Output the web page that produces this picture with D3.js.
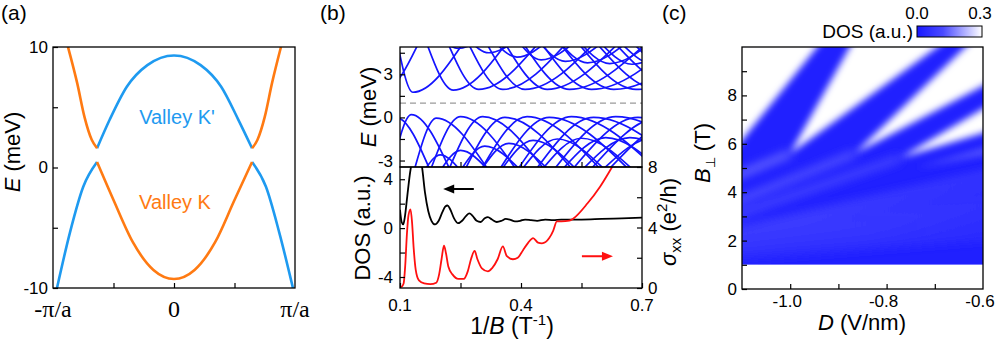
<!DOCTYPE html>
<meta charset="utf-8" />
<script src="https://cdn.jsdelivr.net/npm/d3@7"></script>
<style>
  body { margin: 0; background: #fff; }
  svg text { font-family: "Liberation Sans", Arial, sans-serif; fill: #000; }
</style>
<body>
<div id="fig"></div>
<script>
// ---------- (a) band dispersion, k in units of pi/a, E in meV ----------
const condOuterLeft  = [[-0.876, 10], [-0.80, 7.0], [-0.74, 4.2], [-0.68, 2.3], [-0.636, 1.6]];
const condOuterRight = [[0.645, 1.6], [0.69, 2.3], [0.75, 4.2], [0.81, 7.0], [0.884, 10]];
const condInner = [[-0.636, 1.6], [-0.53, 4.0], [-0.39, 6.7], [-0.22, 8.5], [0, 9.3],
                   [0.22, 8.5], [0.39, 6.7], [0.53, 4.0], [0.645, 1.6]];
const valInner = [[-0.636, 0.45], [-0.5, -2.7], [-0.34, -6.2], [-0.17, -8.5], [0, -9.25],
                  [0.17, -8.5], [0.34, -6.2], [0.5, -2.7], [0.645, 0.45]];
const valOuterLeft  = [[-0.967, -10], [-0.86, -5.4], [-0.75, -1.6], [-0.636, 0.45]];
const valOuterRight = [[0.645, 0.45], [0.76, -1.6], [0.87, -5.4], [0.983, -10]];

// ---------- (b) Landau levels vs 1/B (T^-1), E in meV ----------
const levelsUp = [
  [[0.02, 5.4], [0.06, 1.9], [0.15, 5.4]],
  [[0.092, 5.4], [0.132, 1.75], [0.262, 5.4]],
  [[0.163, 5.4], [0.232, 1.9], [0.37, 5.4]],
  [[0.215, 5.4], [0.295, 1.95], [0.45, 5.4]],
  [[0.265, 5.4], [0.355, 1.95], [0.52, 5.4]],
  [[0.31, 5.4], [0.41, 1.95], [0.59, 5.4]],
  [[0.355, 5.4], [0.465, 1.95], [0.65, 5.4]],
  [[0.4, 5.4], [0.52, 1.95], [0.72, 5.4]],
  [[0.445, 5.4], [0.575, 1.95], [0.79, 5.4]],
  [[0.49, 5.4], [0.63, 1.95], [0.86, 5.4]],
  [[0.535, 5.4], [0.685, 1.95], [0.93, 5.4]],
  [[0.58, 5.4], [0.74, 1.95], [1.0, 5.4]],
  [[0.625, 5.4], [0.795, 1.95], [1.06, 5.4]],
  [[0.67, 5.4], [0.85, 1.95], [1.12, 5.4]],
  [[0.2, 5.4], [0.245, 4.8], [0.3, 5.4]],
  [[0.27, 5.4], [0.32, 4.5], [0.39, 5.4]],
  [[0.33, 5.4], [0.39, 4.2], [0.47, 5.4]],
  [[0.39, 5.4], [0.45, 4.0], [0.54, 5.4]],
  [[0.44, 5.4], [0.51, 3.9], [0.61, 5.4]],
  [[0.49, 5.4], [0.565, 3.8], [0.67, 5.4]],
  [[0.54, 5.4], [0.62, 3.75], [0.73, 5.4]],
  [[0.59, 5.4], [0.675, 3.7], [0.79, 5.4]],
  [[0.64, 5.4], [0.73, 3.7], [0.85, 5.4]]
];
const levelsDown = [
  [[0.04, -3.7], [0.09, 0.0], [0.175, -3.7]],
  [[0.08, -3.7], [0.128, 0.2], [0.225, -3.7]],
  [[0.135, -3.7], [0.19, -0.05], [0.32, -3.7]],
  [[0.175, -3.7], [0.25, 0.05], [0.39, -3.7]],
  [[0.22, -3.7], [0.305, 0.05], [0.46, -3.7]],
  [[0.26, -3.7], [0.36, 0.0], [0.53, -3.7]],
  [[0.3, -3.7], [0.415, 0.05], [0.6, -3.7]],
  [[0.345, -3.7], [0.47, 0.0], [0.67, -3.7]],
  [[0.39, -3.7], [0.525, 0.05], [0.74, -3.7]],
  [[0.435, -3.7], [0.58, 0.0], [0.81, -3.7]],
  [[0.48, -3.7], [0.635, 0.05], [0.88, -3.7]],
  [[0.525, -3.7], [0.69, 0.0], [0.95, -3.7]],
  [[0.57, -3.7], [0.745, 0.0], [1.02, -3.7]],
  [[0.615, -3.7], [0.8, 0.0], [1.09, -3.7]],
  [[0.16, -3.7], [0.2, -2.6], [0.25, -3.7]],
  [[0.2, -3.7], [0.25, -2.3], [0.32, -3.7]],
  [[0.25, -3.7], [0.31, -2.0], [0.4, -3.7]],
  [[0.3, -3.7], [0.37, -1.8], [0.47, -3.7]],
  [[0.35, -3.7], [0.43, -1.6], [0.54, -3.7]],
  [[0.4, -3.7], [0.49, -1.5], [0.61, -3.7]],
  [[0.45, -3.7], [0.55, -1.45], [0.68, -3.7]],
  [[0.5, -3.7], [0.61, -1.4], [0.75, -3.7]],
  [[0.55, -3.7], [0.67, -1.4], [0.82, -3.7]],
  [[0.6, -3.7], [0.73, -1.4], [0.89, -3.7]]
];
const gapCenter = 1.0;

// DOS (a.u.) and sigma_xx (e^2/h) vs 1/B
const dosTrace = [[0.100, 1.5], [0.104, 0.5], [0.108, 0.3], [0.112, 0.9], [0.118, 2.6], [0.124, 4.3],
  [0.130, 5.6], [0.136, 7.0], [0.142, 7.2], [0.148, 6.2], [0.155, 4.9], [0.162, 2.9], [0.170, 1.4],
  [0.178, 0.6], [0.187, 0.3], [0.196, 0.6], [0.205, 1.3], [0.212, 1.75], [0.218, 1.85], [0.225, 1.5],
  [0.234, 0.8], [0.244, 0.4], [0.254, 0.6], [0.264, 1.0], [0.272, 1.2], [0.280, 1.0], [0.290, 0.6],
  [0.300, 0.5], [0.310, 0.8], [0.318, 0.9], [0.328, 0.7], [0.340, 0.5], [0.352, 0.6], [0.362, 0.75],
  [0.372, 0.7], [0.385, 0.55], [0.398, 0.6], [0.41, 0.7], [0.425, 0.65], [0.44, 0.6], [0.46, 0.7],
  [0.48, 0.65], [0.5, 0.7], [0.55, 0.7], [0.6, 0.75], [0.65, 0.8], [0.7, 0.85]];
const sigmaTrace = [[0.103, 0.05], [0.109, 0.3], [0.113, 1.5], [0.117, 3.5], [0.121, 4.8], [0.126, 5.2],
  [0.130, 4.3], [0.134, 2.6], [0.139, 1.2], [0.147, 0.5], [0.160, 0.3], [0.175, 0.25], [0.190, 0.35],
  [0.197, 0.9], [0.203, 1.9], [0.209, 2.8], [0.214, 2.3], [0.220, 1.4], [0.230, 0.9], [0.245, 0.6],
  [0.258, 0.6], [0.268, 1.1], [0.276, 1.9], [0.285, 2.45], [0.292, 1.9], [0.303, 1.3], [0.318, 1.1],
  [0.328, 1.3], [0.342, 1.9], [0.355, 2.75], [0.365, 2.1], [0.380, 1.9], [0.392, 2.0], [0.405, 2.5],
  [0.418, 3.0], [0.430, 3.3], [0.442, 3.0], [0.452, 2.95], [0.470, 3.3], [0.480, 3.8], [0.489, 4.4],
  [0.500, 4.4], [0.520, 4.45], [0.530, 4.6], [0.565, 5.6], [0.596, 6.7], [0.626, 8.0], [0.64, 8.6]];

// ---------- (c) DOS map, D (V/nm) vs B (T) ----------
const dosFloor = 0.02;        // inside the Landau levels
const dosGap = 0.3;           // open gaps between levels
const gapWedges = [
  [[-1.12, 5.66], [-0.932, 10.3], [-1.12, 10.3]],
  [[-1.0, 5.6], [-0.868, 10.3], [-0.674, 10.3]],
  [[-0.866, 5.6], [-0.621, 10.3], [-0.58, 10.3], [-0.58, 8.61]],
  [[-0.772, 5.41], [-0.58, 7.69], [-0.58, 6.57]]
];
const weakWedges = [[[-0.74, 5.0], [-0.58, 5.95], [-0.58, 5.6]]];
const weakWedgeDos = [0.13];
const streaks = [
  [[-1.0, 5.6], [-1.12, 4.6]],
  [[-0.866, 5.6], [-1.12, 3.55]],
  [[-0.772, 5.41], [-1.12, 3.0]],
  [[-0.58, 4.8], [-1.12, 2.4]],
  [[-0.58, 4.3], [-1.12, 2.2]],
  [[-0.58, 3.8], [-1.12, 2.0]],
  [[-0.58, 3.4], [-1.12, 1.8]],
  [[-0.58, 3.0], [-1.12, 1.65]],
  [[-0.58, 2.6], [-1.12, 1.5]],
  [[-0.58, 2.2], [-1.12, 1.35]]
];
const streakDos = [0.15, 0.13, 0.11, 0.09, 0.085, 0.08, 0.075, 0.07, 0.06, 0.05];
const mapFloorB = 1;

const W = 1000, H = 341;
const svg = d3.select("#fig").append("svg").attr("width", W).attr("height", H);
svg.append("rect").attr("width", W).attr("height", H).attr("fill", "#fff");
const defs = svg.append("defs");

const blueA = "#1e9af0", orangeA = "#ff7a12", llBlue = "#1414ff";

function clip(id, x, y, w, h) {
  defs.append("clipPath").attr("id", id).append("rect")
    .attr("x", x).attr("y", y).attr("width", w).attr("height", h);
}
function frame(x, y, w, h) {
  svg.append("rect").attr("x", x).attr("y", y).attr("width", w).attr("height", h)
    .attr("fill", "none").attr("stroke", "#000").attr("stroke-width", 1.3);
}
// inward ticks through d3 axes, no labels
function ticks(axisFn, scale, vals, len, tx, ty) {
  const g = svg.append("g").attr("transform", `translate(${tx},${ty})`)
    .call(axisFn(scale).tickValues(vals).tickSize(-len).tickFormat(""));
  g.select(".domain").remove();
  g.selectAll("line").attr("stroke", "#000").attr("stroke-width", 1.2);
}
function label(x, y, txt, size, anchor, fam) {
  return svg.append("text").attr("x", x).attr("y", y).attr("font-size", size)
    .attr("text-anchor", anchor || "middle")
    .style("font-family", fam || null).text(txt);
}

// ================= panel (a) =================
const xA = d3.scaleLinear().domain([-1, 1]).range([53, 295]);
const yA = d3.scaleLinear().domain([-10, 10]).range([288, 47]);
clip("clipA", 53, 47, 242, 241);
const lineA = d3.line().x(d => xA(d[0])).y(d => yA(d[1])).curve(d3.curveMonotoneX);
const gA = svg.append("g").attr("clip-path", "url(#clipA)")
  .attr("fill", "none").attr("stroke-width", 2.6).attr("stroke-linejoin", "round");
[condInner, valOuterLeft, valOuterRight].forEach(d =>
  gA.append("path").attr("d", lineA(d)).attr("stroke", blueA));
[condOuterLeft, condOuterRight, valInner].forEach(d =>
  gA.append("path").attr("d", lineA(d)).attr("stroke", orangeA));
frame(53, 47, 242, 241);
ticks(d3.axisLeft, yA, [-10, -5, 0, 5, 10], 5, 53, 0);
ticks(d3.axisBottom, xA, [-0.5, 0, 0.5], 5, 0, 288);
[10, 0, -10].forEach(v => label(48, yA(v) + 5.5, v, 17, "end"));
const serif = '"Liberation Serif", "Times New Roman", serif';
[[-1, "-\u03c0/a"], [0, "0"], [1, "\u03c0/a"]].forEach(([v, t]) =>
  label(xA(v), 317, t, 24, "middle", serif));
svg.append("text").attr("transform", "translate(20,152) rotate(-90)")
  .attr("text-anchor", "middle").attr("font-size", 22)
  .call(t => { t.append("tspan").attr("font-style", "italic").text("E");
               t.append("tspan").text(" (meV)"); });
label(177, 124, "Valley K'", 20).style("fill", blueA);
label(175, 209, "Valley K", 20).style("fill", orangeA);
label(1, 20, "(a)", 21, "start");

// ================= panel (b) =================
const xB = d3.scaleLinear().domain([0.1, 0.7]).range([400, 642]);
const yBt = d3.scaleLinear().domain([-3.45, 4.9]).range([167, 47]);
const yBl = d3.scaleLinear().domain([-4.9, 5]).range([288, 167]);
const yBr = d3.scaleLinear().domain([0, 8]).range([288, 167]);
clip("clipBt", 400, 47, 242, 120);
clip("clipBb", 400, 167, 242, 121);

const lineBt = d3.line().x(d => xB(d[0])).y(d => yBt(d[1])).curve(d3.curveMonotoneX);
const gBt = svg.append("g").attr("clip-path", "url(#clipBt)").attr("fill", "none");
gBt.append("line").attr("x1", 400).attr("x2", 642)
  .attr("y1", yBt(gapCenter)).attr("y2", yBt(gapCenter))
  .attr("stroke", "#9a9a9a").attr("stroke-width", 1.3).attr("stroke-dasharray", "6,4");
gBt.selectAll("path.ll").data(levelsUp.concat(levelsDown)).join("path").attr("class", "ll")
  .attr("d", lineBt).attr("stroke", llBlue).attr("stroke-width", 1.7);

const lineDos = d3.line().x(d => xB(d[0])).y(d => yBl(d[1])).curve(d3.curveMonotoneX);
const lineSig = d3.line().x(d => xB(d[0])).y(d => yBr(d[1])).curve(d3.curveMonotoneX);
const gBb = svg.append("g").attr("clip-path", "url(#clipBb)").attr("fill", "none");
gBb.append("path").attr("d", lineDos(dosTrace)).attr("stroke", "#000").attr("stroke-width", 1.8);
gBb.append("path").attr("d", lineSig(sigmaTrace)).attr("stroke", "#ff1010").attr("stroke-width", 1.8);

// axis arrows
function arrow(x1, x2, y, col) {
  const dir = Math.sign(x2 - x1);
  svg.append("line").attr("x1", x1).attr("x2", x2 - dir * 8).attr("y1", y).attr("y2", y)
    .attr("stroke", col).attr("stroke-width", 2);
  svg.append("path").attr("fill", col)
    .attr("d", `M${x2},${y} L${x2 - dir * 11},${y - 4.5} L${x2 - dir * 11},${y + 4.5} Z`);
}
arrow(xB(0.283), xB(0.207), yBl(3.2), "#000");
arrow(xB(0.551), xB(0.628), yBr(2.1), "#ff1010");

frame(400, 47, 242, 120);
frame(400, 167, 242, 121);
ticks(d3.axisLeft, yBt, [-3, -1.5, 0, 1.5, 3, 4.5], 5, 400, 0);
ticks(d3.axisBottom, xB, [0.25, 0.4, 0.55], 5, 0, 167);
ticks(d3.axisLeft, yBl, [-4, -2, 0, 2, 4], 5, 400, 0);
ticks(d3.axisRight, yBr, [0, 2, 4, 6, 8], 5, 642, 0);
ticks(d3.axisBottom, xB, [0.1, 0.25, 0.4, 0.55, 0.7], 5, 0, 288);
[3, 0, -3].forEach(v => label(393, yBt(v) + 6, v, 17, "end"));
[4, 0, -4].forEach(v => label(393, yBl(v) + 6, v, 17, "end"));
[8, 4, 0].forEach(v => label(648, yBr(v) + 6, v, 17, "start"));
[0.1, 0.4, 0.7].forEach(v => label(xB(v), 311, v.toFixed(1), 17));

svg.append("text").attr("transform", "translate(376,107) rotate(-90)")
  .attr("text-anchor", "middle").attr("font-size", 22)
  .call(t => { t.append("tspan").attr("font-style", "italic").text("E");
               t.append("tspan").text(" (meV)"); });
svg.append("text").attr("transform", "translate(370,228) rotate(-90)")
  .attr("text-anchor", "middle").attr("font-size", 22).text("DOS (a.u.)");
svg.append("text").attr("transform", "translate(676,222) rotate(-90)")
  .attr("text-anchor", "middle").attr("font-size", 22)
  .call(t => {
    t.append("tspan").attr("font-style", "italic").text("\u03c3");
    t.append("tspan").attr("font-size", 15).attr("dy", 5).text("xx");
    t.append("tspan").attr("dy", -5).text(" (e");
    t.append("tspan").attr("font-size", 15).attr("dy", -9).text("2");
    t.append("tspan").attr("dy", 9).text("/h)");
  });
svg.append("text").attr("x", 512).attr("y", 334).attr("text-anchor", "middle").attr("font-size", 23)
  .call(t => {
    t.append("tspan").text("1/");
    t.append("tspan").attr("font-style", "italic").text("B");
    t.append("tspan").text(" (T");
    t.append("tspan").attr("font-size", 15).attr("dy", -9).text("-1");
    t.append("tspan").attr("dy", 9).text(")");
  });
label(320, 20, "(b)", 21, "start");

// ================= panel (c) =================
const xC = d3.scaleLinear().domain([-1.1, -0.6]).range([742, 983]);
const yC = d3.scaleLinear().domain([0, 10]).range([289, 47]);
const dosColor = d3.scaleLinear().domain([0, 0.12, 0.3]).range(["#1818ff", "#4a4aff", "#ffffff"]);
clip("clipCmap", 742, 47, 241, yC(mapFloorB) - 47);
function blur(id, sd) {
  defs.append("filter").attr("id", id).attr("filterUnits", "userSpaceOnUse")
    .attr("x", 600).attr("y", 0).attr("width", 500).attr("height", 341)
    .append("feGaussianBlur").attr("stdDeviation", sd);
}
blur("soft", 3.5);
blur("softer", 5);

const gC = svg.append("g").attr("clip-path", "url(#clipCmap)");
gC.append("rect").attr("x", xC(-1.1)).attr("y", yC(10))
  .attr("width", xC(-0.6) - xC(-1.1)).attr("height", yC(mapFloorB) - yC(10))
  .attr("fill", dosColor(dosFloor));
const lineC = d3.line().x(d => xC(d[0])).y(d => yC(d[1]));
gC.append("g").attr("filter", "url(#softer)")
  .selectAll("line").data(streaks).join("line")
  .attr("x1", d => xC(d[0][0])).attr("y1", d => yC(d[0][1]))
  .attr("x2", d => xC(d[1][0])).attr("y2", d => yC(d[1][1]))
  .attr("stroke", (d, i) => dosColor(streakDos[i])).attr("stroke-width", 7);
const gSoft = gC.append("g").attr("filter", "url(#soft)");
gSoft.selectAll("path.ww").data(weakWedges).join("path").attr("class", "ww")
  .attr("d", d => lineC(d) + "Z").attr("fill", (d, i) => dosColor(weakWedgeDos[i]));
gSoft.selectAll("path.gw").data(gapWedges).join("path").attr("class", "gw")
  .attr("d", d => lineC(d) + "Z").attr("fill", dosColor(dosGap));

frame(742, 47, 241, 242);
ticks(d3.axisLeft, yC, d3.range(0, 10, 1), 5, 742, 0);
ticks(d3.axisBottom, xC, [-1.0, -0.9, -0.8, -0.7], 5, 0, 289);
[0, 2, 4, 6, 8].forEach(v => label(737, yC(v) + 6, v, 17, "end"));
[-1.0, -0.8, -0.6].forEach(v => label(xC(v) - 3, 307, v.toFixed(1), 17));
svg.append("text").attr("transform", "translate(710,153) rotate(-90)")
  .attr("text-anchor", "middle").attr("font-size", 22)
  .call(t => {
    t.append("tspan").attr("font-style", "italic").text("B");
    t.append("tspan").attr("font-size", 13).attr("dy", 5).text("\u22a5");
    t.append("tspan").attr("dy", -5).text(" (T)");
  });
svg.append("text").attr("x", 862).attr("y", 330).attr("text-anchor", "middle").attr("font-size", 22)
  .call(t => { t.append("tspan").attr("font-style", "italic").text("D");
               t.append("tspan").text(" (V/nm)"); });

// colour bar
const grad = defs.append("linearGradient").attr("id", "dosGrad");
d3.range(0, 1.0001, 0.1).forEach(f =>
  grad.append("stop").attr("offset", f).attr("stop-color", dosColor(f * 0.3)));
const cbX = d3.scaleLinear().domain([0, 0.3]).range([917, 982]);
svg.append("rect").attr("x", cbX(0)).attr("y", 26).attr("width", cbX(0.3) - cbX(0)).attr("height", 11)
  .attr("fill", "url(#dosGrad)").attr("stroke", "#000").attr("stroke-width", 1);
label(cbX(0), 19, "0.0", 17);
label(cbX(0.3) - 2, 19, "0.3", 17);
label(913, 38, "DOS (a.u.)", 19, "end");
label(662, 20, "(c)", 21, "start");
</script>
</body>
